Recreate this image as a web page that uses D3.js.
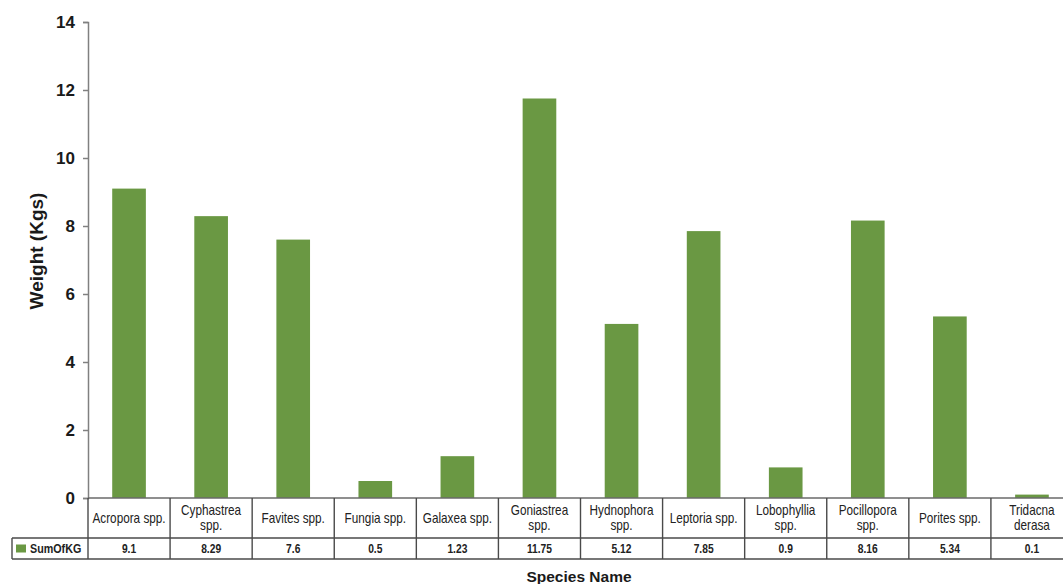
<!DOCTYPE html>
<html><head><meta charset="utf-8">
<script src="https://cdn.jsdelivr.net/npm/d3@7"></script>
<style>
html,body{margin:0;padding:0;background:#fff;}
svg{display:block;}
</style></head>
<body>
<script>
const categories = [["Acropora spp."],["Cyphastrea","spp."],["Favites spp."],["Fungia spp."],["Galaxea spp."],["Goniastrea","spp."],["Hydnophora","spp."],["Leptoria spp."],["Lobophyllia","spp."],["Pocillopora","spp."],["Porites spp."],["Tridacna","derasa"]];
const seriesName = "SumOfKG";
const values = [9.1, 8.29, 7.6, 0.5, 1.23, 11.75, 5.12, 7.85, 0.9, 8.16, 5.34, 0.1];
const valueLabels = ["9.1","8.29","7.6","0.5","1.23","11.75","5.12","7.85","0.9","8.16","5.34","0.1"];
const yTicks = [0,2,4,6,8,10,12,14];

(function(){
const W = 1063, H = 584;
const pLeft = 88, pRight = 1073, pTop = 22, base = 498;
const row1 = 538, row2 = 559, legendLeft = 12;
const green = "#6a9843";
const sans = "'Liberation Sans',Arial,sans-serif";

const svg = d3.select("body").append("svg").attr("width", W).attr("height", H);

const x = d3.scaleBand().domain(d3.range(categories.length)).range([pLeft, pRight]).paddingInner(0).paddingOuter(0);
const y = d3.scaleLinear().domain([0, 14]).range([base, pTop]);
const barW = x.bandwidth() * 0.41;

// bars
svg.append("g").selectAll("rect").data(values).join("rect")
  .attr("x", (d, i) => x(i) + (x.bandwidth() - barW) / 2)
  .attr("y", d => y(d))
  .attr("width", barW)
  .attr("height", d => base - y(d))
  .attr("fill", green);

// y axis
const yAxis = svg.append("g").attr("transform", `translate(${pLeft},0)`)
  .call(d3.axisLeft(y).tickValues(yTicks).tickSize(5).tickPadding(8).tickFormat(d3.format("d")));
yAxis.select(".domain").attr("stroke", "#808080").attr("stroke-width", 1.5);
yAxis.selectAll(".tick line").attr("stroke", "#808080").attr("stroke-width", 1.5);
yAxis.selectAll(".tick text").attr("fill", "#1a1a1a")
  .style("font-family", sans).style("font-size", "17px").style("font-weight", "bold");

// table lines
const lineColor = "#4a4a4a";
const tg = svg.append("g");
tg.append("line").attr("x1", pLeft).attr("x2", W).attr("y1", base).attr("y2", base).attr("stroke", "#6a6a6a").attr("stroke-width", 1.5);
tg.append("line").attr("x1", legendLeft).attr("x2", W).attr("y1", row1).attr("y2", row1).attr("stroke", lineColor).attr("stroke-width", 1.4);
tg.append("line").attr("x1", legendLeft).attr("x2", W).attr("y1", row2).attr("y2", row2).attr("stroke", lineColor).attr("stroke-width", 1.4);
tg.append("line").attr("x1", legendLeft).attr("x2", legendLeft).attr("y1", row1).attr("y2", row2).attr("stroke", lineColor).attr("stroke-width", 1.4);
tg.selectAll("line.v").data(d3.range(categories.length)).join("line").attr("class", "v")
  .attr("x1", i => x(i)).attr("x2", i => x(i)).attr("y1", base).attr("y2", row2)
  .attr("stroke", lineColor).attr("stroke-width", 1.4);

// header labels (condensed)
const hdr = svg.append("g").selectAll("text").data(categories).join("text")
  .attr("transform", (d, i) => `translate(${x(i) + x.bandwidth() / 2},0) scale(0.84,1)`)
  .attr("text-anchor", "middle")
  .style("font-family", sans).style("font-size", "14px").attr("fill", "#222");
hdr.each(function(d) {
  const t = d3.select(this);
  const mid = (base + row1) / 2;
  d.forEach((line, k) => {
    t.append("tspan").attr("x", 0)
      .attr("y", mid + 5 + (k - (d.length - 1) / 2) * 15)
      .text(line);
  });
});

// value row
svg.append("g").selectAll("text").data(valueLabels).join("text")
  .attr("transform", (d, i) => `translate(${x(i) + x.bandwidth() / 2},${(row1 + row2) / 2 + 4.5}) scale(0.82,1)`)
  .attr("text-anchor", "middle")
  .style("font-family", sans).style("font-size", "12.5px").style("font-weight", "bold").attr("fill", "#222")
  .text(d => d);

// legend
svg.append("rect").attr("x", 16).attr("y", (row1 + row2) / 2 - 4).attr("width", 10).attr("height", 8).attr("fill", green);
svg.append("text").attr("transform", `translate(30,${(row1 + row2) / 2 + 4.5}) scale(0.86,1)`)
  .style("font-family", sans).style("font-size", "12.5px").style("font-weight", "bold").attr("fill", "#222")
  .text(seriesName);

// axis titles
svg.append("text").attr("transform", `translate(43,${(pTop + base) / 2 - 9}) rotate(-90)`)
  .attr("text-anchor", "middle")
  .style("font-family", sans).style("font-size", "19px").style("font-weight", "bold").attr("fill", "#1a1a1a")
  .text("Weight (Kgs)");
svg.append("text").attr("x", 579).attr("y", 582).attr("text-anchor", "middle")
  .style("font-family", sans).style("font-size", "15.5px").style("font-weight", "bold").attr("fill", "#1a1a1a")
  .text("Species Name");
})();
</script>
</body></html>
